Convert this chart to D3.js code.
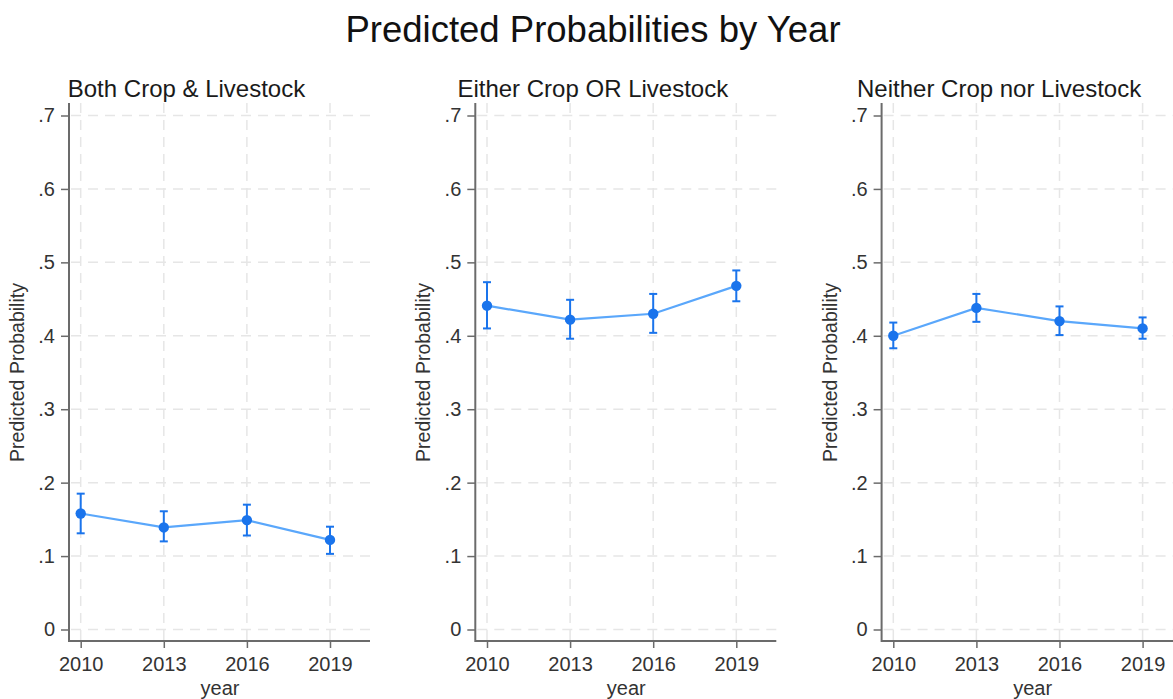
<!DOCTYPE html>
<html>
<head>
<meta charset="utf-8">
<script src="https://cdn.jsdelivr.net/npm/d3@7"></script>
<style>
  html, body { margin: 0; padding: 0; background: #fff; }
  svg { display: block; font-family: "Liberation Sans", Arial, sans-serif; }
</style>
</head>
<body>
<svg id="chart" width="1173" height="699"></svg>
<script>
// Survey years on the x axis
const years = [2010, 2013, 2016, 2019];

// Panel titles
const panelTitles = ["Both Crop & Livestock", "Either Crop OR Livestock", "Neither Crop nor Livestock"];

// Predicted probabilities (point estimates) per panel
const bothEst    = [0.158, 0.139, 0.149, 0.122];
const eitherEst  = [0.441, 0.422, 0.430, 0.468];
const neitherEst = [0.400, 0.438, 0.420, 0.410];

// 95% confidence interval bounds per panel
const bothLo    = [0.131, 0.120, 0.128, 0.103];
const bothHi    = [0.185, 0.161, 0.170, 0.140];
const eitherLo  = [0.410, 0.396, 0.404, 0.447];
const eitherHi  = [0.473, 0.449, 0.457, 0.489];
const neitherLo = [0.383, 0.419, 0.401, 0.396];
const neitherHi = [0.418, 0.457, 0.440, 0.425];

// Y axis tick values and labels
const yTicks = [0, 0.1, 0.2, 0.3, 0.4, 0.5, 0.6, 0.7];
const yTickLabels = ["0", ".1", ".2", ".3", ".4", ".5", ".6", ".7"];

const panels = [
  { title: panelTitles[0], est: bothEst, lo: bothLo, hi: bothHi },
  { title: panelTitles[1], est: eitherEst, lo: eitherLo, hi: eitherHi },
  { title: panelTitles[2], est: neitherEst, lo: neitherLo, hi: neitherHi }
];

const svg = d3.select("#chart");
const FONT = "Liberation Sans, Arial, sans-serif";

// Overall title
svg.append("text")
  .attr("x", 593).attr("y", 42)
  .attr("text-anchor", "middle")
  .attr("font-size", 36.5)
  .attr("fill", "#111")
  .text("Predicted Probabilities by Year");

// Layout of one panel (relative to the panel's left edge)
const panelStep = 406.3;
const axisLeft = 69, axisRight = 370, axisTop = 103, axisBottom = 641;

const x = d3.scaleLinear().domain([2010, 2019]).range([80.7, 330]);
const y = d3.scaleLinear().domain([0, 0.7]).range([629.5, 115.5]);

const lineColor = "#5aa7fb";
const markColor = "#1a74ec";
const gridColor = "#e6e6e6";
const axisColor = "#6b6b6b";
const textColor = "#333";

panels.forEach((p, i) => {
  const g = svg.append("g").attr("transform", `translate(${i * panelStep},0)`);

  // Panel title
  g.append("text")
    .attr("x", 186.5).attr("y", 97)
    .attr("text-anchor", "middle")
    .attr("font-size", 24)
    .attr("fill", "#1a1a1a")
    .text(p.title);

  // Horizontal dashed grid
  g.append("g").selectAll("line").data(yTicks).join("line")
    .attr("x1", axisLeft + 2).attr("x2", axisRight)
    .attr("y1", d => y(d)).attr("y2", d => y(d))
    .attr("stroke", gridColor).attr("stroke-width", 1.5)
    .attr("stroke-dasharray", "10,7");

  // Vertical dashed grid
  g.append("g").selectAll("line").data(years).join("line")
    .attr("x1", d => x(d)).attr("x2", d => x(d))
    .attr("y1", axisTop).attr("y2", axisBottom - 1)
    .attr("stroke", gridColor).attr("stroke-width", 1.5)
    .attr("stroke-dasharray", "10,7");

  // Y axis
  const yAxis = d3.axisLeft(y)
    .tickValues(yTicks)
    .tickFormat((d, k) => yTickLabels[k])
    .tickSize(8).tickPadding(6);
  const ya = g.append("g").attr("transform", `translate(${axisLeft},0)`).call(yAxis);
  ya.attr("font-size", null).attr("font-family", null);
  ya.select(".domain").remove();
  ya.selectAll(".tick line").attr("stroke", axisColor).attr("stroke-width", 1.5);
  ya.selectAll(".tick text").attr("font-size", 20).attr("fill", textColor)
    .attr("font-family", FONT);
  g.append("line")
    .attr("x1", axisLeft).attr("x2", axisLeft)
    .attr("y1", axisTop).attr("y2", axisBottom + 1)
    .attr("stroke", axisColor).attr("stroke-width", 2);

  // X axis
  const xAxis = d3.axisBottom(x)
    .tickValues(years)
    .tickFormat(d3.format("d"))
    .tickSize(7).tickPadding(9);
  const xa = g.append("g").attr("transform", `translate(0,${axisBottom})`).call(xAxis);
  xa.attr("font-size", null).attr("font-family", null);
  xa.select(".domain").remove();
  xa.selectAll(".tick line").attr("stroke", axisColor).attr("stroke-width", 1.5);
  xa.selectAll(".tick text").attr("font-size", 20).attr("fill", textColor)
    .attr("font-family", FONT);
  g.append("line")
    .attr("x1", axisLeft).attr("x2", axisRight)
    .attr("y1", axisBottom).attr("y2", axisBottom)
    .attr("stroke", axisColor).attr("stroke-width", 2);

  // Axis titles
  g.append("text")
    .attr("transform", `translate(24,${(y(0) + y(0.7)) / 2}) rotate(-90)`)
    .attr("text-anchor", "middle")
    .attr("font-size", 19.5)
    .attr("fill", textColor)
    .text("Predicted Probability");
  g.append("text")
    .attr("x", (axisLeft + axisRight) / 2 + 0.5).attr("y", 695)
    .attr("text-anchor", "middle")
    .attr("font-size", 20)
    .attr("fill", textColor)
    .text("year");

  const pts = years.map((yr, k) => ({ yr, est: p.est[k], lo: p.lo[k], hi: p.hi[k] }));

  // Connecting line
  g.append("path")
    .datum(pts)
    .attr("fill", "none")
    .attr("stroke", lineColor)
    .attr("stroke-width", 2.2)
    .attr("d", d3.line().x(d => x(d.yr)).y(d => y(d.est)));

  // Confidence interval bars with caps
  const ci = g.append("g").selectAll("g").data(pts).join("g");
  ci.append("line")
    .attr("x1", d => x(d.yr)).attr("x2", d => x(d.yr))
    .attr("y1", d => y(d.lo)).attr("y2", d => y(d.hi))
    .attr("stroke", markColor).attr("stroke-width", 2);
  ci.append("line")
    .attr("x1", d => x(d.yr) - 4).attr("x2", d => x(d.yr) + 4)
    .attr("y1", d => y(d.hi)).attr("y2", d => y(d.hi))
    .attr("stroke", markColor).attr("stroke-width", 2);
  ci.append("line")
    .attr("x1", d => x(d.yr) - 4).attr("x2", d => x(d.yr) + 4)
    .attr("y1", d => y(d.lo)).attr("y2", d => y(d.lo))
    .attr("stroke", markColor).attr("stroke-width", 2);

  // Point markers
  g.append("g").selectAll("circle").data(pts).join("circle")
    .attr("cx", d => x(d.yr)).attr("cy", d => y(d.est))
    .attr("r", 5.2)
    .attr("fill", markColor);
});
</script>
</body>
</html>
